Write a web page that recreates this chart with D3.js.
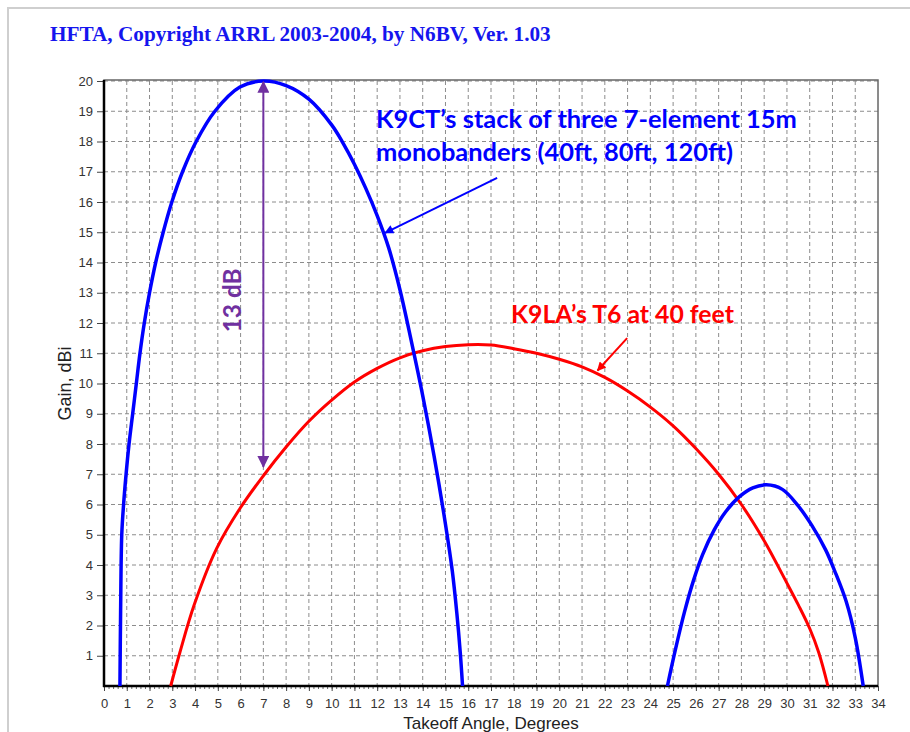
<!DOCTYPE html>
<html>
<head>
<meta charset="utf-8">
<script src="https://cdn.jsdelivr.net/npm/d3@7/dist/d3.min.js"></script>
<style>
  body { margin: 0; background: #fff; }
</style>
</head>
<body>
<svg width="910" height="732"></svg>
<script>
const titleText = "HFTA, Copyright ARRL 2003-2004, by N6BV, Ver. 1.03";
const xLabelText = "Takeoff Angle, Degrees";
const yLabelText = "Gain, dBi";
const xTickValues = d3.range(0, 35);
const yTickValues = d3.range(1, 21);

// K9CT stack of three 7-el 15m monobanders, main lobe
const stackAngles1 = [0.7, 0.73, 0.78, 0.86, 0.97, 1.1, 1.26, 1.42, 1.58, 1.77, 2.0, 2.27, 2.6, 2.98, 3.45, 4.05, 4.87, 5.97, 7.0, 8.0, 9.0, 10.0, 10.5, 11.0, 11.5, 12.0, 12.5, 13.0, 13.5, 14.0, 14.5, 15.0, 15.3, 15.5, 15.65, 15.75];
const stackGain1   = [0, 2.5, 5, 6, 7, 8, 9, 10, 11, 12, 13, 14, 15, 16, 17, 18, 19, 19.8, 20, 19.85, 19.4, 18.55, 17.95, 17.25, 16.45, 15.55, 14.5, 13.1, 11.4, 9.6, 7.6, 5.35, 3.8, 2.4, 1.1, 0];

// K9CT stack, second lobe
const stackAngles2 = [24.75, 25.1, 25.5, 25.9, 26.3, 26.8, 27.3, 27.9, 28.5, 29.1, 29.8, 30.5, 31.1, 31.7, 32.1, 32.6, 33.0, 33.35];
const stackGain2   = [0, 1.2, 2.45, 3.5, 4.35, 5.15, 5.75, 6.25, 6.55, 6.65, 6.5, 5.95, 5.3, 4.5, 3.8, 2.8, 1.6, 0];

// K9LA T6 at 40 feet
const t6Angles = [2.93, 3.33, 3.97, 4.95, 6.0, 7.0, 8.0, 9.0, 10.0, 11.0, 12.0, 13.0, 14.0, 15.0, 16.0, 17.0, 18.0, 19.0, 20.0, 21.0, 22.0, 23.0, 24.0, 25.0, 26.0, 27.0, 28.0, 29.0, 30.0, 30.5, 31.0, 31.4, 31.8];
const t6Gain   = [0, 1.1, 2.7, 4.55, 5.9, 6.95, 7.9, 8.75, 9.45, 10.05, 10.5, 10.85, 11.08, 11.22, 11.28, 11.27, 11.15, 11.0, 10.8, 10.55, 10.2, 9.75, 9.22, 8.6, 7.85, 7.0, 6.0, 4.8, 3.4, 2.68, 1.9, 1.1, 0];

const stackNote = ["K9CT\u2019s stack of three 7-element 15m", "monobanders (40ft, 80ft, 120ft)"];
const t6Note = "K9LA\u2019s T6 at 40 feet";
const gapNote = "13 dB";

const colors =
{
    stack: "#0000ff",
    t6: "#ff0000",
    gap: "#7030a0",
    grid: "#8c8c8c",
    text: "#333"
};

const svg = d3.select("svg");

const x = d3.scaleLinear().domain([0, 34]).range([104, 878]);
const y = d3.scaleLinear().domain([0, 20]).range([686, 81]);

// light outer frame of the screenshot
svg.append("rect")
    .attr("x", 8).attr("y", 8)
    .attr("width", 1000).attr("height", 1000)
    .attr("fill", "none")
    .attr("stroke", "#cfcfcf")
    .attr("stroke-width", 2);

function fitWidth(sel, target)
{
    const w = sel.node().getComputedTextLength();
    const fs = parseFloat(sel.attr("font-size"));
    sel.attr("font-size", fs * target / w);
    return fs * target / w;
}

// title
const title = svg.append("text")
    .attr("x", 50).attr("y", 41)
    .attr("font-family", "'Liberation Serif', 'Times New Roman', serif")
    .attr("font-weight", "bold")
    .attr("font-size", 17)
    .attr("fill", "#1515ee")
    .text(titleText);
fitWidth(title, 501);

// grid
const grid = svg.append("g").attr("class", "grid");

grid.selectAll("line.h")
    .data(yTickValues)
    .join("line")
    .attr("class", "h")
    .attr("x1", x(0)).attr("x2", x(34))
    .attr("y1", d => y(d)).attr("y2", d => y(d))
    .attr("stroke", colors.grid)
    .attr("stroke-width", 1)
    .attr("stroke-dasharray", "4,3");

grid.selectAll("line.v")
    .data(xTickValues.filter(d => d > 0 && d < 34))
    .join("line")
    .attr("class", "v")
    .attr("x1", d => x(d)).attr("x2", d => x(d))
    .attr("y1", y(20)).attr("y2", y(0))
    .attr("stroke", colors.grid)
    .attr("stroke-width", 1)
    .attr("stroke-dasharray", "4,3");

// plot frame
svg.append("rect")
    .attr("x", x(0)).attr("y", y(20) - 1)
    .attr("width", x(34) - x(0)).attr("height", y(0) - y(20) + 1)
    .attr("fill", "none")
    .attr("stroke", "#666")
    .attr("stroke-width", 1.5);

// x axis with minor ticks
const xAxis = svg.append("g")
    .attr("transform", `translate(0,${y(0)})`)
    .call(d3.axisBottom(x).tickValues(d3.range(0, 34.01, 0.2)).tickSize(3).tickFormat(""));
xAxis.select(".domain").remove();
xAxis.selectAll(".tick line").attr("stroke", "#666");

const xMajor = svg.append("g")
    .attr("transform", `translate(0,${y(0)})`)
    .call(d3.axisBottom(x).tickValues(xTickValues).tickSize(5).tickPadding(8).tickFormat(d3.format("d")));
xMajor.select(".domain").remove();
xMajor.selectAll(".tick line").attr("stroke", "#444");
xMajor.selectAll(".tick text")
    .attr("font-family", "Arial, 'Liberation Sans', sans-serif")
    .attr("font-size", 13)
    .attr("fill", colors.text);

const yAxis = svg.append("g")
    .attr("transform", `translate(${x(0)},0)`)
    .call(d3.axisLeft(y).tickValues(yTickValues).tickSize(7).tickPadding(4).tickFormat(d3.format("d")));
yAxis.select(".domain").remove();
yAxis.selectAll(".tick line").attr("stroke", "#444");
yAxis.selectAll(".tick text")
    .attr("font-family", "Arial, 'Liberation Sans', sans-serif")
    .attr("font-size", 13)
    .attr("fill", colors.text);

// thick left and bottom axis lines
svg.append("line")
    .attr("x1", x(0)).attr("x2", x(0))
    .attr("y1", y(20) - 1).attr("y2", y(0) + 1)
    .attr("stroke", "#000").attr("stroke-width", 2.5);
svg.append("line")
    .attr("x1", x(0) - 1).attr("x2", x(34))
    .attr("y1", y(0)).attr("y2", y(0))
    .attr("stroke", "#000").attr("stroke-width", 2.5);

// axis labels
svg.append("text")
    .attr("x", x(17)).attr("y", 728.5)
    .attr("text-anchor", "middle")
    .attr("font-family", "Arial, 'Liberation Sans', sans-serif")
    .attr("font-size", 17)
    .attr("fill", "#222")
    .text(xLabelText);

svg.append("text")
    .attr("transform", `translate(71,${y(10)}) rotate(-90)`)
    .attr("text-anchor", "middle")
    .attr("font-family", "Arial, 'Liberation Sans', sans-serif")
    .attr("font-size", 18)
    .attr("fill", "#222")
    .text(yLabelText);

// curves
const line = d3.line()
    .x(d => x(d[0]))
    .y(d => y(d[1]))
    .curve(d3.curveCatmullRom.alpha(0.5));

const series =
[
    { angles: t6Angles, gains: t6Gain, color: colors.t6, width: 3 },
    { angles: stackAngles1, gains: stackGain1, color: colors.stack, width: 3.5 },
    { angles: stackAngles2, gains: stackGain2, color: colors.stack, width: 3.5 }
];

svg.append("g")
    .selectAll("path")
    .data(series)
    .join("path")
    .attr("d", s => line(s.angles.map((a, i) => [a, s.gains[i]])))
    .attr("fill", "none")
    .attr("stroke", s => s.color)
    .attr("stroke-width", s => s.width)
    .attr("stroke-linejoin", "round");

// arrow markers
const defs = svg.append("defs");
function addMarker(id, color, w, h)
{
    defs.append("marker")
        .attr("id", id)
        .attr("viewBox", "0 0 10 10")
        .attr("refX", 9).attr("refY", 5)
        .attr("markerWidth", w).attr("markerHeight", h)
        .attr("markerUnits", "userSpaceOnUse")
        .attr("orient", "auto-start-reverse")
        .append("path")
        .attr("d", "M0,0 L10,5 L0,10 Z")
        .attr("fill", color);
}
addMarker("arrowBlue", colors.stack, 13, 9);
addMarker("arrowRed", colors.t6, 13, 9);
addMarker("arrowPurple", colors.gap, 14, 12);

// 13 dB gap arrow
svg.append("line")
    .attr("x1", x(7)).attr("x2", x(7))
    .attr("y1", y(20) + 1).attr("y2", y(7.25))
    .attr("stroke", colors.gap)
    .attr("stroke-width", 2)
    .attr("marker-start", "url(#arrowPurple)")
    .attr("marker-end", "url(#arrowPurple)");

const gapText = svg.append("text")
    .attr("transform", `translate(${x(5.62)},${y(12.75)}) rotate(-90)`)
    .attr("text-anchor", "middle")
    .attr("dominant-baseline", "central")
    .attr("font-family", "Lato, 'Open Sans', sans-serif")
    .attr("font-weight", "bold")
    .attr("font-size", 22)
    .attr("fill", colors.gap)
    .text(gapNote);
fitWidth(gapText, 64);

// stack annotation
const noteFont = "Lato, 'Open Sans', sans-serif";
const line1 = svg.append("text")
    .attr("x", x(11.95)).attr("y", 128)
    .attr("font-family", noteFont)
    .attr("font-weight", "bold")
    .attr("font-size", 22)
    .attr("fill", colors.stack)
    .text(stackNote[0]);
const fs1 = fitWidth(line1, 421);
svg.append("text")
    .attr("x", x(11.95)).attr("y", 161)
    .attr("font-family", noteFont)
    .attr("font-weight", "bold")
    .attr("font-size", fs1)
    .attr("fill", colors.stack)
    .text(stackNote[1]);

svg.append("line")
    .attr("x1", x(17.27)).attr("y1", y(16.8))
    .attr("x2", x(12.35)).attr("y2", y(14.98))
    .attr("stroke", colors.stack)
    .attr("stroke-width", 2)
    .attr("marker-end", "url(#arrowBlue)");

// T6 annotation
const t6Text = svg.append("text")
    .attr("x", x(17.88)).attr("y", 323)
    .attr("font-family", noteFont)
    .attr("font-weight", "bold")
    .attr("font-size", 22)
    .attr("fill", colors.t6)
    .text(t6Note);
fitWidth(t6Text, 223);

svg.append("line")
    .attr("x1", x(22.98)).attr("y1", y(11.5))
    .attr("x2", x(21.68)).attr("y2", y(10.43))
    .attr("stroke", colors.t6)
    .attr("stroke-width", 2)
    .attr("marker-end", "url(#arrowRed)");
</script>
</body>
</html>
